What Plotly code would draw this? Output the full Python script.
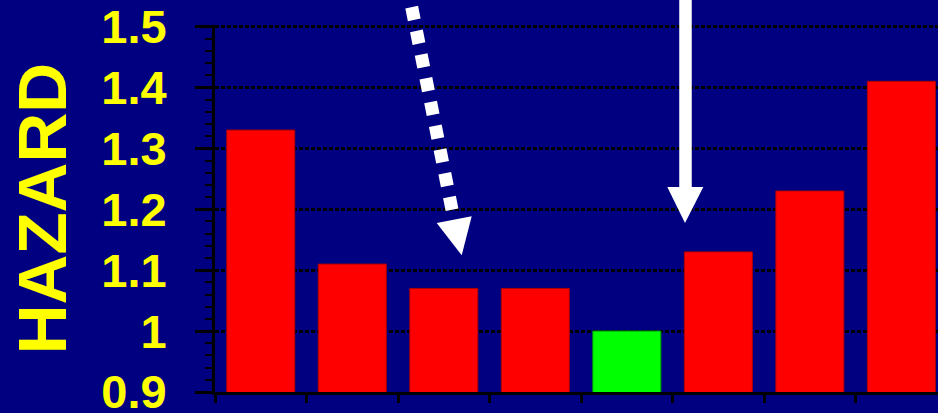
import plotly.graph_objects as go

# ---- data ----
categories = ["1", "2", "3", "4", "5", "6", "7", "8"]
hazard = [1.33, 1.11, 1.07, 1.07, 1.00, 1.13, 1.23, 1.41]
bar_colors = ["#FF0000", "#FF0000", "#FF0000", "#FF0000", "#00FF00", "#FF0000", "#FF0000", "#FF0000"]
edge_colors = ["#B00000", "#B00000", "#B00000", "#B00000", "#00A000", "#B00000", "#B00000", "#B00000"]
y_ticks = [0.9, 1.0, 1.1, 1.2, 1.3, 1.4, 1.5]
y_tick_text = ["0.9", "1", "1.1", "1.2", "1.3", "1.4", "1.5"]

# ---- layout geometry (pixels) ----
W, H = 938, 413
L, R, T, B = 215, 0, 24.5, 21
PW, PH = W - L - R, H - T - B
BG = "#000080"
YEL = "#FFFF00"
Y_RANGE = [0.9, 1.5025]


def px(x):
    return (x - L) / PW


def py(y):
    return (H - B - y) / PH


fig = go.Figure()
fig.add_trace(go.Bar(
    x=categories, y=hazard,
    marker=dict(color=bar_colors, line=dict(color=edge_colors, width=1)),
    base=0,
))

shapes = []
# dotted arrow shaft
shapes.append(dict(type="line", xref="paper", yref="paper",
                   x0=px(411.7), y0=py(6.6), x1=px(452.0), y1=py(209.4),
                   line=dict(color="white", width=13, dash="13px,11.2px")))
# dotted arrow head
shapes.append(dict(type="path", xref="paper", yref="paper",
                   path=f"M {px(436.7)} {py(222.7)} L {px(471.7)} {py(216)} L {px(461.7)} {py(255)} Z",
                   fillcolor="white", line=dict(width=0)))
# solid arrow shaft
shapes.append(dict(type="line", xref="paper", yref="paper",
                   x0=px(685.5), y0=py(-5), x1=px(685.5), y1=py(190),
                   line=dict(color="white", width=12.5)))
# solid arrow head
shapes.append(dict(type="path", xref="paper", yref="paper",
                   path=f"M {px(667.3)} {py(186.7)} L {px(703.3)} {py(186.7)} L {px(685)} {py(222.7)} Z",
                   fillcolor="white", line=dict(width=0)))

fig.update_layout(
    width=W, height=H,
    margin=dict(l=L, r=R, t=T, b=B, pad=0),
    paper_bgcolor=BG, plot_bgcolor=BG,
    showlegend=False,
    bargap=0.257,
    shapes=shapes,
    annotations=[dict(
        text="HAZARD", xref="paper", yref="paper",
        x=px(42), y=py(209), xanchor="center", yanchor="middle",
        textangle=-90, showarrow=False,
        font=dict(family="Liberation Sans, Arial", size=69, color=YEL, weight="bold"),
    )],
)

fig.update_xaxes(
    type="category", range=[-0.5, 7.4],
    showticklabels=False, showgrid=False, zeroline=False,
    showline=True, linecolor="black", linewidth=3,
    ticks="outside", tickson="boundaries", ticklen=8, tickwidth=3, tickcolor="black",
    automargin=False,
)

fig.update_yaxes(
    range=Y_RANGE, tickvals=y_ticks, ticktext=y_tick_text,
    showline=True, linecolor="black", linewidth=3,
    ticks="outside", ticklen=17, tickwidth=3, tickcolor="black",
    ticklabelstandoff=19, ticklabeloverflow="allow",
    tickfont=dict(family="Liberation Sans, Arial", size=47, color=YEL, weight="bold"),
    showgrid=True, gridcolor="black", gridwidth=3, griddash="4px,2px",
    zeroline=False,
    minor=dict(dtick=0.02, ticks="outside", ticklen=7, tickwidth=2, tickcolor="black", showgrid=False),
    automargin=False,
)

fig.write_html("out.html")
